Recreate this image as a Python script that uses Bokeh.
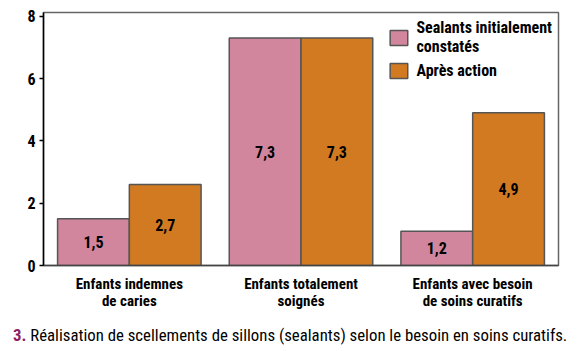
from bokeh.plotting import figure
from bokeh.models import FactorRange, ColumnDataSource, Legend, LegendItem, LabelSet, Div
from bokeh.layouts import column
from bokeh.core.properties import value
from bokeh.transform import dodge
from bokeh.embed import file_html
from bokeh.resources import INLINE

categories = ["Enfants indemnes\nde caries", "Enfants totalement\nsoignés", "Enfants avec besoin\nde soins curatifs"]
initial_values = [1.5, 7.3, 1.1]
after_values = [2.6, 7.3, 4.9]
initial_labels = ["1,5", "7,3", "1,2"]
after_labels = ["2,7", "7,3", "4,9"]
series_names = ["Sealants initialement\nconstatés", "Après action"]
y_ticks = [0, 2, 4, 6, 8]
title_number = "3."
title_text = "Réalisation de scellements de sillons (sealants) selon le besoin en soins curatifs."

FONT = "Roboto Condensed"
PINK = "#D1869D"
ORANGE = "#D17A22"
EDGE = "#555555"

src = ColumnDataSource(dict(
    cat=categories,
    ini=initial_values,
    aft=after_values,
    ini_mid=[v / 2 for v in initial_values],
    aft_mid=[v / 2 for v in after_values],
    ini_lab=initial_labels,
    aft_lab=after_labels,
))

p = figure(width=582, height=322, x_range=FactorRange(*categories, range_padding=0),
           y_range=(0, 8.12), output_backend="svg", toolbar_location=None,
           min_border_left=43, min_border_right=24, min_border_top=12, min_border_bottom=57)

r1 = p.vbar(x=dodge("cat", -0.209, range=p.x_range), top="ini", width=0.418, source=src,
            fill_color=PINK, line_color=EDGE, line_width=1.5)
r2 = p.vbar(x=dodge("cat", 0.209, range=p.x_range), top="aft", width=0.418, source=src,
            fill_color=ORANGE, line_color=EDGE, line_width=1.5)

for xoff, ycol, tcol in [(-0.209, "ini_mid", "ini_lab"), (0.209, "aft_mid", "aft_lab")]:
    p.add_layout(LabelSet(x=dodge("cat", xoff, range=p.x_range), y=ycol, text=tcol, source=src,
                          text_align="center", text_baseline="middle",
                          text_font=value(FONT), text_font_size=value("16px"),
                          text_font_style=value("bold"), text_color=value("black")))

p.xgrid.visible = False
p.ygrid.visible = False
p.outline_line_color = "#666666"
p.outline_line_width = 1.5

p.yaxis.ticker = y_ticks
p.yaxis.minor_tick_line_color = None
p.yaxis.major_tick_out = 4
p.yaxis.major_tick_in = 0
p.yaxis.axis_line_color = "black"
p.yaxis.axis_line_width = 1.5
p.yaxis.major_tick_line_width = 1.5
p.yaxis.major_label_text_font = FONT
p.yaxis.major_label_text_font_size = "16px"
p.yaxis.major_label_text_font_style = "bold"
p.yaxis.major_label_text_color = "black"
p.yaxis.major_label_standoff = 4

p.xaxis.major_tick_line_color = None
p.xaxis.minor_tick_line_color = None
p.xaxis.axis_line_color = "#444444"
p.xaxis.axis_line_width = 1.5
p.xaxis.major_label_text_font = FONT
p.xaxis.major_label_text_font_size = "15px"
p.xaxis.major_label_text_font_style = "bold"
p.xaxis.major_label_text_color = "black"
p.xaxis.major_label_text_line_height = 0.95
p.xaxis.major_label_standoff = 3

legend = Legend(items=[LegendItem(label=series_names[0], renderers=[r1]),
                       LegendItem(label=series_names[1], renderers=[r2])],
                location="top_right", border_line_alpha=0, background_fill_alpha=0,
                label_text_font=FONT, label_text_font_size="16px", label_text_font_style="bold",
                label_text_color="black", label_text_line_height=1.0,
                glyph_width=22, glyph_height=19, label_standoff=7, spacing=5,
                padding=5, margin=1)
p.add_layout(legend)

caption = Div(
    text=(f'<span style="color:#8E1E62;font-weight:bold">{title_number}</span> '
          f'<span style="color:black">{title_text}</span>'),
    width=582, height=29, margin=(0, 0, 0, 0),
    styles={"font-family": FONT, "font-size": "16.8px", "padding-left": "13px",
            "padding-top": "4px", "line-height": "18px", "white-space": "nowrap"})

layout = column(p, caption, spacing=0, margin=(0, 0, 0, 0))
open("out.html", "w").write(file_html(layout, INLINE))
